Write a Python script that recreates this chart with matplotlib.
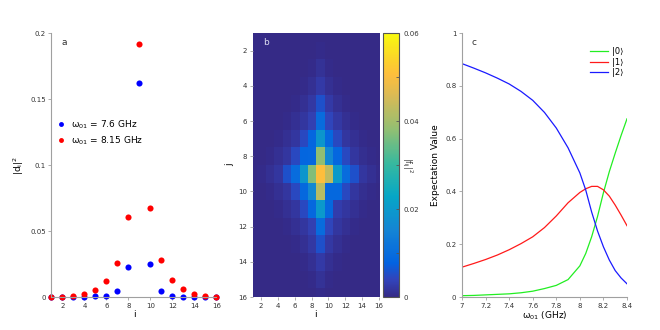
"""
Three-panel figure: photon-number weights |d_i|^2, joint amplitude map |f_ij|^2,
and level populations against qubit frequency. Saves out.png.
"""

import numpy as np
import matplotlib

matplotlib.use("Agg")
import matplotlib.pyplot as plt
from matplotlib.colors import LinearSegmentedColormap

# ---- panel a: |d_i|^2 at two qubit frequencies ----
i_vals = list(range(1, 17))
d2_760 = [0.0, 0.0, 0.0, 0.0001, 0.0004, 0.001, 0.0047, 0.0227, 0.1624, 0.0247,
          0.0048, 0.001, 0.0003, 0.0001, 0.0, 0.0]
d2_815 = [0.0, 0.0003, 0.001, 0.0023, 0.0053, 0.0119, 0.026, 0.0604, 0.1914, 0.0672,
          0.0283, 0.0129, 0.0058, 0.0025, 0.001, 0.0003]
labels_a = [r"$\omega_{01}$ = 7.6 GHz", r"$\omega_{01}$ = 8.15 GHz"]

# ---- panel b: |f_ij|^2, rows j = 1..16, columns i = 1..16 ----
f2 = [
    [0, 0, 0, 0, 0, 0, 0, 0, 0, 0, 0, 0, 0, 0, 0, 0],
    [0, 0, 0, 0, 0, 0, 0, 0, 0.0003, 0, 0, 0, 0, 0, 0, 0],
    [0, 0, 0, 0, 0, 0, 0, 0.0003, 0.0012, 0.0003, 0, 0, 0, 0, 0, 0],
    [0, 0, 0, 0, 0, 0, 0.0003, 0.001, 0.0025, 0.001, 0.0004, 0, 0, 0, 0, 0],
    [0, 0, 0, 0, 0, 0.0003, 0.001, 0.0022, 0.0055, 0.0025, 0.001, 0.0003, 0, 0, 0, 0],
    [0, 0, 0, 0, 0.0003, 0.001, 0.002, 0.0035, 0.0100, 0.004, 0.0022, 0.001, 0.0003, 0, 0, 0],
    [0, 0, 0, 0.0003, 0.001, 0.002, 0.0045, 0.0085, 0.0190, 0.0090, 0.0045, 0.002, 0.001, 0.0003, 0, 0],
    [0, 0, 0.0003, 0.001, 0.002, 0.0045, 0.0085, 0.0088, 0.0380, 0.0160, 0.0088, 0.0045, 0.002, 0.0008, 0.0003, 0],
    [0, 0.0003, 0.001, 0.002, 0.0055, 0.0100, 0.0190, 0.0370, 0.0505, 0.0430, 0.0200, 0.0100, 0.0055, 0.002, 0.001, 0.0003],
    [0, 0, 0.0003, 0.001, 0.002, 0.0045, 0.0090, 0.0160, 0.0420, 0.0090, 0.0090, 0.0045, 0.002, 0.0008, 0.0003, 0],
    [0, 0, 0, 0.0003, 0.001, 0.002, 0.0045, 0.0090, 0.0200, 0.0090, 0.003, 0.002, 0.001, 0.0003, 0, 0],
    [0, 0, 0, 0, 0.0003, 0.001, 0.002, 0.0035, 0.0100, 0.004, 0.002, 0.001, 0.0003, 0, 0, 0],
    [0, 0, 0, 0, 0, 0.0003, 0.001, 0.0022, 0.0055, 0.0022, 0.001, 0.0003, 0, 0, 0, 0],
    [0, 0, 0, 0, 0, 0, 0.0003, 0.001, 0.0025, 0.001, 0.0003, 0, 0, 0, 0, 0],
    [0, 0, 0, 0, 0, 0, 0, 0.0003, 0.0012, 0.0003, 0, 0, 0, 0, 0, 0],
    [0, 0, 0, 0, 0, 0, 0, 0, 0.0003, 0, 0, 0, 0, 0, 0, 0],
]

# ---- panel c: populations vs qubit frequency ----
w01 = [7.0, 7.1, 7.2, 7.3, 7.4, 7.5, 7.6, 7.7, 7.8, 7.9, 8.0, 8.05, 8.1, 8.15,
       8.2, 8.25, 8.3, 8.35, 8.4]
p0 = [0.005, 0.006, 0.008, 0.010, 0.012, 0.016, 0.022, 0.032, 0.044, 0.066, 0.118,
      0.165, 0.228, 0.305, 0.395, 0.475, 0.545, 0.612, 0.675]
p1 = [0.113, 0.127, 0.142, 0.159, 0.179, 0.202, 0.228, 0.263, 0.307, 0.357, 0.396,
      0.410, 0.419, 0.419, 0.406, 0.382, 0.348, 0.310, 0.270]
p2 = [0.884, 0.867, 0.849, 0.829, 0.807, 0.779, 0.745, 0.699, 0.640, 0.565, 0.470,
      0.405, 0.322, 0.250, 0.190, 0.140, 0.100, 0.072, 0.050]
labels_c = ["|0\u27e9", "|1\u27e9", "|2\u27e9"]

# approximate MATLAB parula
PARULA = LinearSegmentedColormap.from_list("parula", [
    (0 / 63, (0.2081, 0.1663, 0.5292)),
    (4 / 63, (0.1959, 0.2645, 0.7279)),
    (8 / 63, (0.0117, 0.3875, 0.8820)),
    (16 / 63, (0.0793, 0.5200, 0.8312)),
    (24 / 63, (0.0228, 0.6535, 0.7768)),
    (32 / 63, (0.2178, 0.7250, 0.6193)),
    (40 / 63, (0.5709, 0.7485, 0.4494)),
    (48 / 63, (0.8507, 0.7299, 0.3360)),
    (53 / 63, (0.9938, 0.7455, 0.2403)),
    (56 / 63, (0.9880, 0.8066, 0.1794)),
    (63 / 63, (0.9763, 0.9831, 0.0538)),
])

SPINE = "#a0a0a0"
TXT = "#333333"
plt.rcParams["font.family"] = "DejaVu Sans"
plt.rcParams["mathtext.default"] = "regular"


def style(ax):
    for side in ("top", "right"):
        ax.spines[side].set_visible(False)
    for side in ("left", "bottom"):
        ax.spines[side].set_color(SPINE)
        ax.spines[side].set_linewidth(0.8)
    ax.tick_params(length=2, width=0.6, color=SPINE, labelsize=5, labelcolor=TXT, pad=2)


fig = plt.figure(figsize=(6.6, 3.3), dpi=100)

# ---- a ----
ax = fig.add_axes([0.078, 0.1, 0.25, 0.8])
ax.plot(i_vals, d2_760, "o", ms=4.4, color="#0000ff", mec="none", label=labels_a[0], clip_on=False)
ax.plot(i_vals, d2_815, "o", ms=4.4, color="#ff0000", mec="none", label=labels_a[1], clip_on=False)
ax.set_xlim(1, 16)
ax.set_ylim(0, 0.2)
ax.set_xticks(range(2, 17, 2))
ax.set_yticks([0, 0.05, 0.1, 0.15, 0.2])
ax.set_yticklabels(["0", "0.05", "0.1", "0.15", "0.2"])
style(ax)
ax.set_xlabel("i", fontsize=6.5, labelpad=1)
ax.set_ylabel(r"$|d_i|^2$", fontsize=6.5, labelpad=3)
ax.text(0.06, 0.965, "a", transform=ax.transAxes, fontsize=6.5, color=TXT, va="center")
ax.legend(loc="upper left", bbox_to_anchor=(-0.02, 0.69), frameon=False, fontsize=6.5,
          handletextpad=0.1, labelspacing=0.35, borderaxespad=0, markerscale=0.8)

# ---- b ----
axb = fig.add_axes([0.383, 0.1, 0.191, 0.8])
im = axb.imshow(np.array(f2), cmap=PARULA, vmin=0, vmax=0.06, aspect="auto",
                interpolation="nearest", extent=[0.5, 16.5, 16.5, 0.5])
axb.set_xlim(1, 16)
axb.set_ylim(16, 1)
axb.set_xticks(range(2, 17, 2))
axb.set_yticks(range(2, 17, 2))
for side in axb.spines:
    axb.spines[side].set_visible(False)
axb.tick_params(length=2, width=0.6, color=SPINE, labelsize=5, labelcolor=TXT, pad=2)
axb.set_xlabel("i", fontsize=6.5, labelpad=1)
axb.set_ylabel("j", fontsize=6.5, labelpad=3)
axb.text(0.085, 0.965, "b", transform=axb.transAxes, fontsize=6.5, color="#dcdcf0", va="center")

cax = fig.add_axes([0.581, 0.1, 0.024, 0.8])
cb = fig.colorbar(im, cax=cax)
cb.set_ticks([0, 0.01, 0.02, 0.03, 0.04, 0.05, 0.06])
cb.set_ticklabels(["0", "", "0.02", "", "0.04", "", "0.06"])
cb.outline.set_edgecolor("#555555")
cb.outline.set_linewidth(0.8)
cax.tick_params(direction="in", length=2, width=0.6, color="#555555", labelsize=5,
                labelcolor=TXT, pad=3)
cax.text(1.5, 0.5, r"$|f_{ij}|^2$", transform=cax.transAxes, rotation=270,
         fontsize=5.5, color=TXT, ha="center", va="center")

# ---- c ----
axc = fig.add_axes([0.7, 0.1, 0.25, 0.8])
axc.plot(w01, p0, color="#22ee22", lw=0.9, label=labels_c[0])
axc.plot(w01, p1, color="#ff1a1a", lw=0.9, label=labels_c[1])
axc.plot(w01, p2, color="#1a1aff", lw=0.9, label=labels_c[2])
axc.set_xlim(7, 8.4)
axc.set_ylim(0, 1)
axc.set_xticks([7, 7.2, 7.4, 7.6, 7.8, 8, 8.2, 8.4])
axc.set_xticklabels(["7", "7.2", "7.4", "7.6", "7.8", "8", "8.2", "8.4"])
axc.set_yticks([0, 0.2, 0.4, 0.6, 0.8, 1])
axc.set_yticklabels(["0", "0.2", "0.4", "0.6", "0.8", "1"])
style(axc)
axc.set_xlabel(r"$\omega_{01}$ (GHz)", fontsize=6.5, labelpad=1)
axc.set_ylabel("Expectation Value", fontsize=6.5, labelpad=4)
axc.text(0.06, 0.965, "c", transform=axc.transAxes, fontsize=6.5, color=TXT, va="center")
axc.legend(loc="upper right", bbox_to_anchor=(1.0, 0.96), frameon=False, fontsize=6,
           handlelength=2.2, handletextpad=0.5, labelspacing=0.2, borderaxespad=0)

fig.savefig("out.png", dpi=100)
